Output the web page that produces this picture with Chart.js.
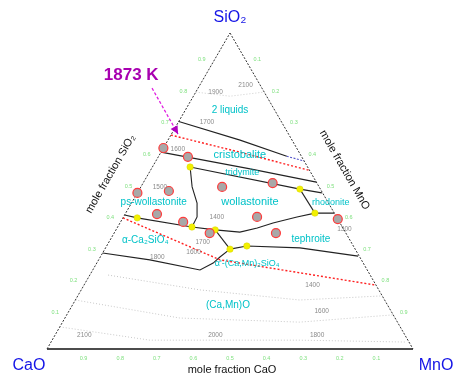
<!DOCTYPE html>
<html><head><meta charset="utf-8">
<script src="https://cdn.jsdelivr.net/npm/chart.js@4/dist/chart.umd.min.js"></script>
<style>html,body{margin:0;padding:0;background:#fff}#wrap{width:466px;height:379px;position:relative}</style>
</head><body><div id="wrap"><canvas id="c"></canvas></div>
<script>
// All compositions are [SiO2, MnO] mole fractions (CaO = 1 - SiO2 - MnO)
const triangleEdgeLeft   = [[0,0],[1,0]];
const triangleEdgeRight  = [[1,0],[0,1]];
const triangleEdgeBottom = [[0,0],[0,1]];

const boundary2Liquids      = [[0.72,0],[0.661,0.197],[0.61,0.35]];
const boundary2LiquidsEnd   = [[0.61,0.35],[0.595,0.405]];
const iso1873Upper          = [[0.677,0],[0.623,0.215],[0.565,0.435]];
const boundaryCristTrid     = [[0.623,0],[0.57,0.27],[0.528,0.472]];
const boundaryTridWoll      = [[0.576,0.103],[0.506,0.438],[0.494,0.504]];
const boundaryPsWoll        = [[0.576,0.103],[0.513,0.140],[0.462,0.179],[0.418,0.201],[0.386,0.203]];
const boundaryWollLower     = [[0.424,0],[0.415,0.039],[0.386,0.203],[0.377,0.271],[0.370,0.342],[0.383,0.383],[0.399,0.418],[0.418,0.474],[0.430,0.517],[0.430,0.570]];
const boundaryRhodTeph      = [[0.506,0.438],[0.430,0.517]];
const boundaryC2SJoin       = [[0.377,0.271],[0.316,0.342]];
const boundaryTephLower     = [[0.316,0.342],[0.326,0.383],[0.320,0.531],[0.294,0.703]];
const boundaryC2SLower      = [[0.304,0],[0.282,0.140],[0.250,0.293],[0.272,0.318],[0.291,0.327],[0.316,0.342]];
const iso1873Lower          = [[0.415,0],[0.282,0.332],[0.241,0.571],[0.202,0.798]];
const isoA = [[0.234,0.050],[0.187,0.325],[0.155,0.613],[0.168,0.831]];
const isoB = [[0.155,0],[0.098,0.314],[0.085,0.648],[0.108,0.891]];
const isoC = [[0.070,0],[0.028,0.267],[0.028,0.677],[0.022,0.967]];
const isoD = [[0.813,0],[0.80,0.10],[0.813,0.186]];

const invariantPoints = [[0.576,0.103],[0.506,0.438],[0.415,0.039],[0.386,0.203],[0.377,0.271],[0.430,0.517],[0.316,0.342],[0.326,0.383]];
const experimentPoints = [[0.636,0],[0.608,0.081],[0.494,0],[0.5,0.083],[0.513,0.222],[0.525,0.354],[0.427,0.087],[0.402,0.171],[0.367,0.261],[0.418,0.365],[0.367,0.442],[0.411,0.589]];

const phaseNames = ['2 liquids','cristobalite','tridymite','ps-wollastonite','wollastonite','rhodonite','tephroite','α-Ca₂SiO₄',"α'-(Ca,Mn)₂SiO₄",'(Ca,Mn)O'];
const phaseComps = [[0.756,0.122],[0.614,0.220],[0.557,0.255],[0.465,0.059],[0.465,0.322],[0.465,0.543],[0.348,0.547],[0.345,0.096],[0.269,0.412],[0.139,0.425]];
const phaseFont  = [10,11,9,10,11,9,10,10,9,10];

const isoLabels = ['1900','2100','1700','1600','1500','1400','1700','1600','1800','1300','1400','1600','1800','2000','2100'];
const isoComps  = [[0.813,0.054],[0.835,0.125],[0.718,0.078],[0.633,0.041],[0.513,0.052],[0.416,0.256],[0.339,0.256],[0.307,0.247],[0.291,0.156],[0.379,0.623],[0.203,0.624],[0.119,0.691],[0.044,0.716],[0.044,0.438],[0.044,0.080]];

const tickValues = [0.1,0.2,0.3,0.4,0.5,0.6,0.7,0.8,0.9];
const tickLabels = ['0.1','0.2','0.3','0.4','0.5','0.6','0.7','0.8','0.9'];

const SQ = Math.sqrt(3)/2;
const toXY = a => a.map(([s,m]) => ({x: m + s/2, y: s*SQ}));
const FONT = '"Liberation Sans", Arial, sans-serif';

function line(data, color, width, dash, order){
  return {data: toXY(data), showLine: true, borderColor: color, borderWidth: width, borderDash: dash||[],
    pointRadius: 0, pointHoverRadius: 0, fill: false, clip: false, order: order, tension: 0};
}

const datasets = [
  {data: toXY(experimentPoints), pointRadius: 4.5, pointBackgroundColor: '#a8a8a8', pointBorderColor: '#ff3b3b', pointBorderWidth: 1.2, showLine: false, clip: false, order: 0},
  {data: toXY(invariantPoints), pointRadius: 3.2, pointBackgroundColor: '#f2f000', pointBorderColor: '#d8d400', pointBorderWidth: 0.5, showLine: false, clip: false, order: 1},
  line(isoA, '#c4c4c4', 1, [1,2], 9),
  line(isoB, '#c8c8c8', 1, [1,2], 9),
  line(isoC, '#c8c8c8', 1, [1,2], 9),
  line(isoD, '#cccccc', 1, [1,2], 9),
  line(triangleEdgeLeft, '#333', 1, [2,1.5], 8),
  line(triangleEdgeRight, '#333', 1, [2,1.5], 8),
  line(triangleEdgeBottom, '#111', 1.5, [], 8),
  line(boundary2Liquids, '#222', 1.1, [], 5),
  line(boundary2LiquidsEnd, '#5050c8', 1.1, [2,1.5], 5),
  line(iso1873Upper, '#ff2020', 1.4, [2,2], 4),
  line(boundaryCristTrid, '#222', 1.1, [], 5),
  line(boundaryTridWoll, '#222', 1.1, [], 5),
  line(boundaryPsWoll, '#222', 1.1, [], 5),
  line(boundaryWollLower, '#222', 1.1, [], 5),
  line(boundaryRhodTeph, '#222', 1.1, [], 5),
  line(boundaryC2SJoin, '#222', 1.1, [], 5),
  line(boundaryTephLower, '#222', 1.1, [], 5),
  line(boundaryC2SLower, '#222', 1.1, [], 5),
  line(iso1873Lower, '#ff2020', 1.4, [2,2], 4)
];

const annot = {
  id: 'annot',
  afterDatasetsDraw(chart){
    const ctx = chart.ctx, xs = chart.scales.x, ys = chart.scales.y;
    const P = (s,m) => [xs.getPixelForValue(m + s/2), ys.getPixelForValue(s*SQ)];
    const Q = (x,y) => [xs.getPixelForValue(x), ys.getPixelForValue(y)];
    ctx.save();
    ctx.textAlign = 'center'; ctx.textBaseline = 'middle';
    ctx.fillStyle = '#8a8a8a'; ctx.font = '6.5px ' + FONT;
    isoLabels.forEach((t,i) => { const [px,py] = P(...isoComps[i]); ctx.fillText(t, px, py); });
    ctx.fillStyle = '#00c2c8';
    phaseNames.forEach((t,i) => { ctx.font = phaseFont[i] + 'px ' + FONT; const [px,py] = P(...phaseComps[i]); ctx.fillText(t, px, py); });
    ctx.fillStyle = '#7ee07e'; ctx.font = '5.5px ' + FONT;
    tickValues.forEach((v,i) => {
      let [px,py] = P(v,0); ctx.fillText(tickLabels[i], px-10, py-5);
      [px,py] = P(1-v,v); ctx.fillText(tickLabels[i], px+9, py-5);
      [px,py] = P(0,1-v); ctx.fillText(tickLabels[i], px, py+9);
    });
    ctx.fillStyle = '#1414e6'; ctx.font = '16px ' + FONT;
    let [ax,ay] = P(1,0); ctx.fillText('SiO₂', ax, ay-15);
    let [lx,ly] = P(0,0); ctx.fillText('CaO', lx-18, ly+17);
    let [rx,ry] = P(0,1); ctx.fillText('MnO', rx+23, ry+17);
    ctx.fillStyle = '#111'; ctx.font = '11px ' + FONT;
    const [bx,by] = P(0,0.5); ctx.fillText('mole fraction CaO', bx+2, by+21);
    const [lm,lmy] = P(0.5,0);
    ctx.save(); ctx.translate(lm-28, lmy-17); ctx.rotate(-Math.PI/3); ctx.fillText('mole fraction SiO₂', 0, 0); ctx.restore();
    const [rm,rmy] = P(0.5,0.5);
    ctx.save(); ctx.translate(rm+23, rmy-21); ctx.rotate(Math.PI/3); ctx.fillText('mole fraction MnO', 0, 0); ctx.restore();
    const [tx,ty] = Q(0.230,0.751);
    ctx.fillStyle = '#a800b0'; ctx.font = 'bold 17px ' + FONT; ctx.fillText('1873 K', tx, ty);
    const [h0x,h0y] = Q(0.287,0.715), [h1x,h1y] = Q(0.358,0.589);
    ctx.strokeStyle = '#e020e0'; ctx.lineWidth = 1.3; ctx.setLineDash([3,2]);
    ctx.beginPath(); ctx.moveTo(h0x,h0y); ctx.lineTo(h1x,h1y); ctx.stroke(); ctx.setLineDash([]);
    const ang = Math.atan2(h1y-h0y, h1x-h0x), L = 8, W = 4;
    ctx.fillStyle = '#b000c0';
    ctx.beginPath(); ctx.moveTo(h1x,h1y);
    ctx.lineTo(h1x - L*Math.cos(ang) + W*Math.sin(ang), h1y - L*Math.sin(ang) - W*Math.cos(ang));
    ctx.lineTo(h1x - L*Math.cos(ang) - W*Math.sin(ang), h1y - L*Math.sin(ang) + W*Math.cos(ang));
    ctx.closePath(); ctx.fill();
    ctx.restore();
  }
};

new Chart(document.getElementById('c'), {
  type: 'scatter',
  data: {datasets},
  options: {
    responsive: true, maintainAspectRatio: false, animation: false,
    layout: {padding: {left: 47, right: 53, top: 33, bottom: 30}},
    scales: {
      x: {type: 'linear', min: 0, max: 1, display: false},
      y: {type: 'linear', min: 0, max: SQ, display: false}
    },
    plugins: {legend: {display: false}, tooltip: {enabled: false}}
  },
  plugins: [annot]
});
</script></body></html>
